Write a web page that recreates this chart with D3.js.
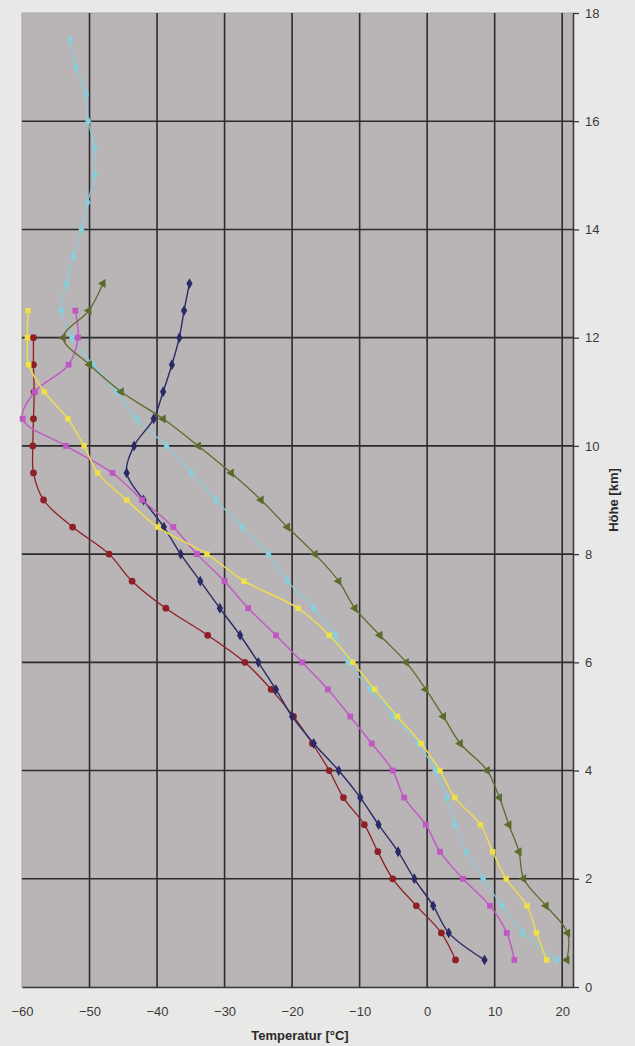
<!DOCTYPE html>
<html>
<head>
<meta charset="utf-8">
<script src="https://cdn.jsdelivr.net/npm/d3@7"></script>
<style>
  html, body { margin: 0; padding: 0; background: #e8e8e6; }
  text { font-family: "Liberation Sans", Arial, sans-serif; }
</style>
</head>
<body>
<div id="chart"></div>
<script>
// heights in km, one value every 500 m
const heightsLow = [0.5, 1, 1.5, 2, 2.5, 3, 3.5, 4, 4.5, 5, 5.5, 6, 6.5, 7, 7.5, 8, 8.5, 9, 9.5, 10, 10.5, 11, 11.5, 12, 12.5, 13, 13.5, 14, 14.5, 15, 15.5, 16, 16.5, 17, 17.5];

// temperatures [°C] per sounding
const tempNavy = [8.5, 3.2, 0.9, -1.9, -4.3, -7.2, -9.9, -13.1, -16.8, -20.0, -22.4, -25.0, -27.7, -30.7, -33.6, -36.5, -39.0, -42.0, -44.5, -43.4, -40.5, -39.1, -37.8, -36.7, -36.0, -35.2];
const tempMagenta = [12.9, 11.8, 9.3, 5.3, 1.9, -0.2, -3.4, -5.1, -8.2, -11.4, -14.7, -18.5, -22.4, -26.5, -30.0, -34.1, -37.6, -42.2, -46.6, -53.5, -59.9, -58.1, -53.1, -51.7, -52.1];
const tempYellow = [17.7, 16.2, 14.8, 11.7, 9.7, 7.9, 4.1, 1.9, -0.9, -4.4, -7.8, -11.0, -14.5, -19.1, -27.1, -32.6, -39.9, -44.5, -48.8, -50.8, -53.2, -56.7, -59.0, -59.2, -59.1];
const tempCyan = [19.2, 14.2, 11.1, 8.3, 5.8, 4.1, 2.9, 1.2, -1.3, -5.0, -8.4, -11.7, -13.6, -16.8, -20.7, -23.5, -27.4, -31.3, -34.9, -38.6, -43.0, -46.0, -49.5, -52.6, -54.2, -53.4, -52.4, -51.2, -50.3, -49.2, -49.2, -50.2, -50.5, -52.0, -52.9];
const tempRed = [4.2, 2.1, -1.6, -5.1, -7.3, -9.3, -12.4, -14.5, -17.0, -19.8, -23.1, -27.0, -32.5, -38.7, -43.7, -47.1, -52.5, -56.8, -58.3, -58.4, -58.3, -58.2, -58.3, -58.3];
const tempGreen = [20.7, 20.8, 17.6, 14.3, 13.6, 12.1, 10.7, 8.9, 4.9, 2.4, -0.2, -3.1, -7.0, -10.7, -13.1, -16.6, -20.7, -24.6, -29.0, -33.9, -39.1, -45.3, -50.0, -53.9, -50.1, -48.0];

const xTicks = [-60, -50, -40, -30, -20, -10, 0, 10, 20];
const yTicks = [0, 2, 4, 6, 8, 10, 12, 14, 16, 18];

const width = 635, height = 1046;
const plot = { left: 22, right: 573, top: 13, bottom: 987 };

const svg = d3.select("#chart")
  .append("svg")
  .attr("width", width)
  .attr("height", height);

svg.append("rect")
  .attr("width", width)
  .attr("height", height)
  .attr("fill", "#e8e8e6");

const xScale = d3.scaleLinear().domain([-60, 21.6]).range([plot.left, plot.right]);
const yScale = d3.scaleLinear().domain([0, 18]).range([plot.bottom, plot.top]);

// plot area
svg.append("rect")
  .attr("x", plot.left)
  .attr("y", plot.top)
  .attr("width", plot.right - plot.left)
  .attr("height", plot.bottom - plot.top)
  .attr("fill", "#b9b4b6")
  .attr("stroke", "#a7a3a4");

// grid
svg.append("g")
  .selectAll("line.v")
  .data(xTicks.filter(d => d > -60))
  .enter().append("line")
  .attr("x1", d => xScale(d)).attr("x2", d => xScale(d))
  .attr("y1", plot.top).attr("y2", plot.bottom)
  .attr("stroke", "#2e2b2c").attr("stroke-width", 1.6);

svg.append("g")
  .selectAll("line.h")
  .data(yTicks.filter(d => d > 0 && d < 18))
  .enter().append("line")
  .attr("x1", plot.left).attr("x2", plot.right)
  .attr("y1", d => yScale(d)).attr("y2", d => yScale(d))
  .attr("stroke", "#2e2b2c").attr("stroke-width", 1.6);

// x axis
const xAxis = svg.append("g")
  .attr("transform", `translate(0,${plot.bottom})`)
  .call(d3.axisBottom(xScale).tickValues(xTicks).tickSize(0).tickPadding(20));
xAxis.select(".domain").attr("stroke", "#3a3738").attr("stroke-width", 1.5);
xAxis.selectAll("text").attr("font-size", 13).attr("fill", "#3a3a3a");

// y axis on the right
const yAxis = svg.append("g")
  .attr("transform", `translate(${plot.right},0)`)
  .call(d3.axisRight(yScale).tickValues(yTicks).tickSize(6).tickSizeOuter(0).tickPadding(6));
yAxis.select(".domain").attr("stroke", "#3a3738").attr("stroke-width", 1.5);
yAxis.selectAll(".tick line").attr("stroke", "#3a3738").attr("stroke-width", 1.3);
yAxis.selectAll("text").attr("font-size", 13).attr("fill", "#3a3a3a");

svg.append("text")
  .attr("x", 300)
  .attr("y", 1040)
  .attr("text-anchor", "middle")
  .attr("font-size", 13)
  .attr("font-weight", "bold")
  .attr("fill", "#2a2a2a")
  .text("Temperatur [°C]");

svg.append("text")
  .attr("transform", "translate(618,500) rotate(-90)")
  .attr("text-anchor", "middle")
  .attr("font-size", 13)
  .attr("font-weight", "bold")
  .attr("fill", "#2a2a2a")
  .text("Höhe [km]");

// soundings
const series = [
  { name: "cyan", temps: tempCyan, color: "#86cfdc", symbol: d3.symbolDiamond, size: 30, width: 1.2 },
  { name: "red", temps: tempRed, color: "#8e1f26", symbol: d3.symbolCircle, size: 36, width: 1.3 },
  { name: "navy", temps: tempNavy, color: "#2a2a66", symbol: d3.symbolDiamond, size: 34, width: 1.4 },
  { name: "magenta", temps: tempMagenta, color: "#c058c4", symbol: d3.symbolSquare, size: 34, width: 1.4 },
  { name: "yellow", temps: tempYellow, color: "#efe048", symbol: d3.symbolSquare, size: 30, width: 1.4 },
  { name: "green", temps: tempGreen, color: "#5c6b2c", symbol: d3.symbolTriangle, size: 34, width: 1.3 }
];

const line = d3.line()
  .x(d => xScale(d.t))
  .y(d => yScale(d.h))
  .curve(d3.curveCatmullRom.alpha(0.5));

series.forEach(s => {
  const pts = s.temps.map((t, i) => ({ t: t, h: heightsLow[i] }));
  const g = svg.append("g").attr("class", "series-" + s.name);

  g.append("path")
    .datum(pts)
    .attr("fill", "none")
    .attr("stroke", s.color)
    .attr("stroke-width", s.width)
    .attr("d", line);

  g.selectAll("path.marker")
    .data(pts)
    .enter().append("path")
    .attr("class", "marker")
    .attr("transform", d => `translate(${xScale(d.t)},${yScale(d.h)})` + (s.name === "green" ? " rotate(-90)" : ""))
    .attr("d", d3.symbol().type(s.symbol).size(s.size))
    .attr("fill", s.color);
});
</script>
</body>
</html>
